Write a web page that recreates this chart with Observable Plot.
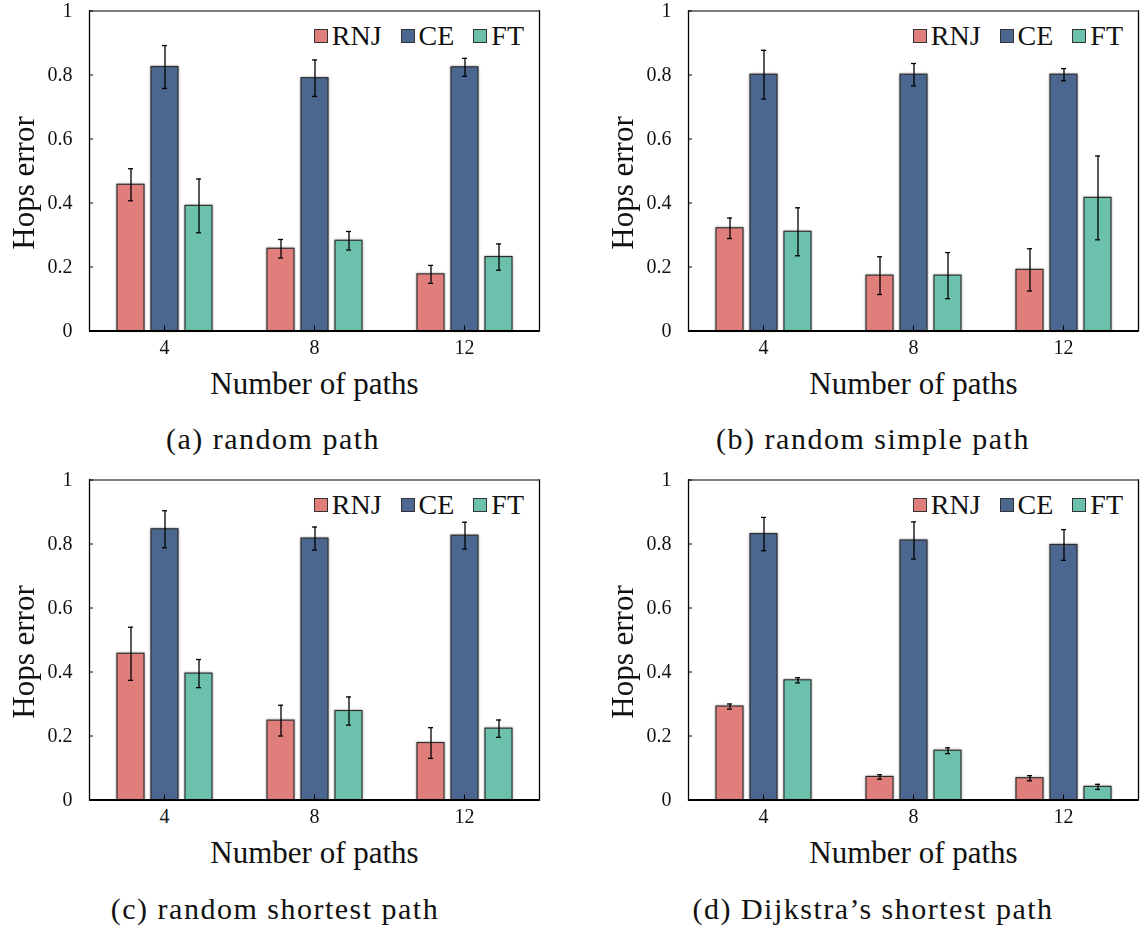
<!DOCTYPE html>
<html>
<head>
<meta charset="utf-8">
<script src="https://cdn.jsdelivr.net/npm/d3@7"></script>
<script src="https://cdn.jsdelivr.net/npm/@observablehq/plot@0.6"></script>
<style>
  html, body { margin: 0; padding: 0; background: #fff; }
  #root { position: relative; width: 1144px; height: 930px; background: #fff; overflow: hidden; }
  .panel { position: absolute; width: 545px; height: 420px; }
  .panel svg { position: absolute; left: 0; top: 0; }
  .panel svg g[aria-label="fx-axis label"] text { font-size: 31px; }
  .panel svg g[aria-label="bar"] { filter: drop-shadow(0px 0px 1.2px rgba(0,0,0,0.45)); }
  .legend { position: absolute; right: 21px; top: 21px; display: flex; align-items: center;
            font-family: "Liberation Serif", "Times New Roman", serif; font-size: 28px; line-height: 30px; color: #111; }
  .legend .item { display: flex; align-items: center; margin-left: 19px; }
  .legend .item:first-child { margin-left: 0; }
  .legend .sw { width: 12px; height: 12px; border: 1.2px solid #333; margin-right: 4px; }
  .caption { position: absolute; width: 560px; text-align: center; transform: translateX(-50%);
             font-family: "Liberation Serif", "Times New Roman", serif; font-size: 30px; letter-spacing: 1.5px; color: #111; }
</style>
</head>
<body>
<div id="root"></div>
<script>
// ---- data ----
const methods = ["RNJ", "CE", "FT"];
const pathCounts = [4, 8, 12];
const methodColors = ["#E07E7B", "#4B668F", "#6CC1AD"];
const yTicks = [0, 0.2, 0.4, 0.6, 0.8, 1];
const yLabel = "Hops error";
const xLabel = "Number of paths";
const captions = ["(a) random path", "(b) random simple path", "(c) random shortest path", "(d) Dijkstra\u2019s shortest path"];

// rows: RNJ, CE, FT ; columns: 4, 8, 12 paths
const meanRandomPath = [[0.457, 0.257, 0.177], [0.825, 0.790, 0.824], [0.391, 0.282, 0.231]];
const errRandomPath  = [[0.050, 0.029, 0.028], [0.067, 0.057, 0.028], [0.084, 0.029, 0.041]];

const meanRandomSimple = [[0.321, 0.173, 0.191], [0.801, 0.801, 0.801], [0.310, 0.173, 0.416]];
const errRandomSimple  = [[0.032, 0.059, 0.066], [0.076, 0.035, 0.019], [0.075, 0.072, 0.131]];

const meanRandomShortest = [[0.457, 0.248, 0.178], [0.846, 0.817, 0.826], [0.395, 0.278, 0.223]];
const errRandomShortest  = [[0.083, 0.048, 0.048], [0.058, 0.036, 0.042], [0.044, 0.044, 0.027]];

const meanDijkstra = [[0.292, 0.072, 0.068], [0.831, 0.811, 0.797], [0.374, 0.154, 0.041]];
const errDijkstra  = [[0.008, 0.007, 0.008], [0.052, 0.058, 0.048], [0.008, 0.009, 0.008]];

const panels = [
  {means: meanRandomPath, errs: errRandomPath, left: 0, top: 0, capX: 273, capY: 422},
  {means: meanRandomSimple, errs: errRandomSimple, left: 599, top: 0, capX: 873, capY: 422},
  {means: meanRandomShortest, errs: errRandomShortest, left: 0, top: 469, capX: 275, capY: 892},
  {means: meanDijkstra, errs: errDijkstra, left: 599, top: 469, capX: 873, capY: 892}
];

function buildRows(means, errs) {
  const rows = [];
  methods.forEach((m, i) => pathCounts.forEach((p, j) => {
    rows.push({method: m, paths: p, value: means[i][j], err: errs[i][j]});
  }));
  return rows;
}

function makePlot(rows) {
  return Plot.plot({
    width: 545,
    height: 410,
    marginLeft: 88,
    marginRight: 6,
    marginTop: 10.5,
    marginBottom: 79.5,
    style: {fontFamily: "Liberation Serif, Times New Roman, serif", fontSize: "20px", color: "#111", background: "transparent", overflow: "visible"},
    fx: {domain: pathCounts, padding: 0},
    x: {domain: methods, paddingInner: 0.217, paddingOuter: 0.79, axis: null},
    y: {domain: [0, 1], axis: null},
    color: {domain: methods, range: methodColors},
    marks: [
      Plot.barY(rows, {fx: "paths", x: "method", y: "value", fill: "method", stroke: "#2b2b2b", strokeWidth: 1.1}),
      Plot.ruleX(rows, {fx: "paths", x: "method", y1: d => d.value - d.err, y2: d => d.value + d.err, stroke: "#000", strokeWidth: 1.3}),
      Plot.tickY(rows, {fx: "paths", x: "method", y: d => d.value + d.err, stroke: "#000", strokeWidth: 1.3, insetLeft: 11, insetRight: 11}),
      Plot.tickY(rows, {fx: "paths", x: "method", y: d => d.value - d.err, stroke: "#000", strokeWidth: 1.3, insetLeft: 11, insetRight: 11}),
      Plot.ruleY([0], {stroke: "#000", strokeWidth: 2}),
      Plot.ruleY([1], {stroke: "#000", strokeWidth: 1}),
      Plot.frame({anchor: "left", facetAnchor: "left", stroke: "#000", strokeWidth: 1.3}),
      Plot.frame({anchor: "right", facetAnchor: "right", stroke: "#000", strokeWidth: 1.3}),
      // inward tick marks
      Plot.axisY({ticks: yTicks, tickSize: -4, tickFormat: () => "", label: null, stroke: "#000"}),
      // tick labels
      Plot.text(yTicks, {y: d => d, text: d => String(d), frameAnchor: "left", facetAnchor: "left", textAnchor: "end", dx: -17, fill: "#111"}),
      Plot.text([yLabel], {frameAnchor: "left", facetAnchor: "left", rotate: -90, lineAnchor: "top", textAnchor: "middle", dx: -78, dy: 12, fontSize: 31, fill: "#111"}),
      Plot.axisFx({anchor: "bottom", tickSize: -5, tickPadding: 14, label: xLabel, labelAnchor: "center", labelArrow: false, labelOffset: 63, stroke: "#000"})
    ]
  });
}

const root = document.getElementById("root");
panels.forEach(p => {
  const div = document.createElement("div");
  div.className = "panel";
  div.style.left = p.left + "px";
  div.style.top = p.top + "px";
  div.appendChild(makePlot(buildRows(p.means, p.errs)));
  const legend = document.createElement("div");
  legend.className = "legend";
  methods.forEach((m, i) => {
    const item = document.createElement("div");
    item.className = "item";
    const sw = document.createElement("div");
    sw.className = "sw";
    sw.style.background = methodColors[i];
    const lab = document.createElement("span");
    lab.textContent = m;
    item.appendChild(sw);
    item.appendChild(lab);
    legend.appendChild(item);
  });
  div.appendChild(legend);
  root.appendChild(div);
});
captions.forEach((c, i) => {
  const cap = document.createElement("div");
  cap.className = "caption";
  cap.style.left = panels[i].capX + "px";
  cap.style.top = panels[i].capY + "px";
  cap.textContent = c;
  root.appendChild(cap);
});
</script>
</body>
</html>
